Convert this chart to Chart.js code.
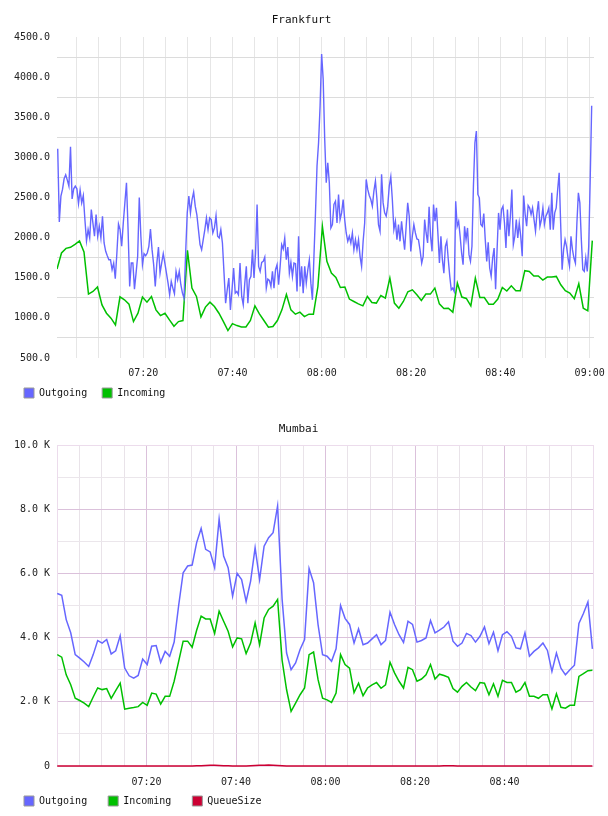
<!DOCTYPE html>
<html>
<head>
<meta charset="utf-8">
<script src="https://cdn.jsdelivr.net/npm/chart.js@4/dist/chart.umd.min.js"></script>
<style>
  body { margin: 0; background: #fff; }
  .box { width: 608px; height: 408px; }
</style>
</head>
<body>
<div class="box"><canvas id="fra" width="608" height="408"></canvas></div>
<div class="box"><canvas id="mum" width="608" height="408"></canvas></div>
<script>
// x values are minutes after 07:00

// ---- Frankfurt ----
// Outgoing, read in three stretches (each spread evenly over its time span)
const fraOutA = [3108, 2196, 2517, 2600, 2733, 2783, 2717, 2642, 3133, 2483,
  2608, 2642, 2608, 2425, 2592, 2433, 2525, 2225, 1958, 2100,
  1996, 2350, 2183, 2017, 2288, 2017, 2142, 1996, 2267, 1933,
  1829, 1775, 1725, 1725, 1600, 1683, 1488, 1808, 2171, 2100,
  1892, 2183, 2433, 2683, 2100, 1392, 1683, 1683, 1358, 1558,
  1767, 2500, 2017, 1663, 1800, 1775, 1808, 1892, 2108, 1850,
  1663, 1392, 1683, 1883, 1558, 1683, 1800, 1683, 1558, 1433,
  1288, 1454, 1371, 1300, 1579, 1475, 1579, 1413, 1308, 1246,
  1808, 2308, 2517, 2308, 2475, 2567, 2392, 2288, 2100, 1913,
  1850, 1975, 2100, 2246, 2100, 2246, 2225, 2058, 2121, 2275,
  2017, 1996, 2100, 1933, 1558, 1183, 1350, 1496, 1100, 1350,
  1621, 1308, 1329, 1288, 1683];
const fraOutB = [1267, 1163, 1433, 1642, 1183, 1475, 1517, 1850, 1496, 1808,
  2413, 1642, 1579, 1692, 1704, 1758, 1371, 1483, 1467, 1392,
  1579, 1371, 1600, 1663, 1413, 1642, 1913, 1858, 1996, 1725,
  1883, 1558, 1692, 1517, 1683, 1675, 1329, 2017, 1392, 1642,
  1308, 1642, 1433, 1600, 1725, 1433, 1225, 1767, 2308, 2892,
  3183, 3642, 4288, 3975, 3225, 2683, 2933, 2683, 2121, 2163,
  2413, 2454, 2183, 2538, 2225, 2308, 2475, 2225, 2058, 1954,
  2017, 1933, 2058, 1850, 1975, 1850, 1975, 1767, 1642, 1954,
  2183, 2725, 2600, 2525, 2475, 2392, 2579, 2704, 2475, 2163,
  2079, 2788, 2433, 2308, 2267, 2392, 2642, 2758, 2475, 2100,
  2204, 1975, 2163, 1954, 2204, 2017, 1850, 2142, 2433, 2267,
  1829, 2017, 2163, 2058, 1983, 1975, 1850];
const fraOutC = [1683, 1767, 2225, 2058, 1933, 2383, 2017, 1829, 2413, 2204,
  2371, 2038, 1683, 2017, 1725, 1558, 1892, 1954, 1725, 1517,
  1350, 1371, 1329, 2454, 2142, 2204, 2017, 1808, 1663, 2142,
  1975, 2121, 1788, 1704, 1892, 2642, 3183, 3329, 2538, 2496,
  2163, 2142, 2300, 1975, 1704, 1942, 1621, 1517, 1746, 1871,
  1358, 1850, 2308, 2100, 2350, 2392, 2183, 1871, 2350, 2017,
  2267, 2600, 1913, 2017, 2225, 1996, 2183, 2017, 1767, 2525,
  2288, 2142, 2400, 2371, 2288, 2371, 2225, 2079, 2308, 2454,
  2142, 2225, 2371, 2163, 2267, 2308, 2371, 2100, 2558, 2100,
  2308, 2371, 2600, 2808, 2183, 1600, 1850, 1975, 1892, 1746,
  1642, 2017, 1850, 1746, 1683, 2183, 2558, 2433, 1975, 1600,
  1579, 1746, 1579, 1892, 2725, 3642];
const fraOutSpans = [[0.83, 41.67], [42.05, 81.99], [82.37, 120.45]];

// Incoming, one reading per minute
const fraIn = [1609, 1809, 1866, 1879, 1917, 1958, 1821, 1296, 1329, 1384,
  1162, 1058, 996, 912, 1262, 1225, 1171, 954, 1058, 1259,
  1196, 1267, 1100, 1029, 1058, 975, 896, 954, 967, 1841,
  1371, 1267, 1012, 1134, 1196, 1142, 1058, 954, 842, 929,
  904, 887, 887, 967, 1150, 1050, 967, 883, 892, 967,
  1100, 1291, 1100, 1046, 1071, 1016, 1046, 1046, 1391, 2140,
  1704, 1558, 1504, 1379, 1384, 1234, 1204, 1175, 1150, 1267,
  1192, 1184, 1279, 1246, 1496, 1184, 1121, 1204, 1325, 1350,
  1288, 1217, 1296, 1296, 1371, 1175, 1117, 1121, 1071, 1434,
  1259, 1242, 1150, 1496, 1254, 1254, 1171, 1171, 1234, 1379,
  1334, 1400, 1338, 1338, 1588, 1579, 1521, 1521, 1471, 1509,
  1509, 1517, 1413, 1338, 1309, 1238, 1425, 1121, 1088, 1963];
const fraInStart = 0.67, fraInStep = 1.0077;
const fraRange = [0.67, 120.97];
const fraYTicks = [500, 750, 1000, 1250, 1500, 1750, 2000, 2250, 2500, 2750,
  3000, 3250, 3500, 3750, 4000, 4250, 4500];

// ---- Mumbai ----
const mumOut = [5375, 5320, 4560, 4150, 3470, 3360, 3240, 3100, 3470, 3910,
  3830, 3940, 3490, 3590, 4060, 3050, 2810, 2740, 2820, 3330,
  3160, 3730, 3750, 3230, 3570, 3420, 3860, 5000, 6020, 6230,
  6260, 6960, 7400, 6750, 6670, 6180, 7690, 6540, 6180, 5290,
  6000, 5810, 5130, 5760, 6800, 5810, 6850, 7110, 7270, 8100,
  5200, 3520, 3000, 3210, 3630, 3940, 6150, 5710, 4400, 3470,
  3420, 3260, 3650, 5000, 4600, 4410, 3830, 4270, 3780, 3830,
  3960, 4090, 3780, 3910, 4790, 4410, 4090, 3850, 4510, 4410,
  3860, 3910, 3990, 4530, 4150, 4230, 4330, 4490, 3890, 3730,
  3830, 4130, 4060, 3860, 4040, 4330, 3810, 4170, 3590, 4090,
  4180, 4040, 3680, 3650, 4150, 3420, 3570, 3680, 3830, 3600,
  2950, 3520, 3050, 2840, 3000, 3140, 4440, 4750, 5110, 3650];
const mumIn = [3470, 3390, 2840, 2530, 2110, 2040, 1960, 1850, 2150, 2430,
  2380, 2410, 2110, 2350, 2580, 1770, 1800, 1820, 1850, 1980,
  1890, 2270, 2240, 1930, 2170, 2170, 2640, 3260, 3890, 3890,
  3700, 4230, 4670, 4580, 4580, 4130, 4820, 4510, 4200, 3710,
  3990, 3960, 3500, 3830, 4460, 3780, 4610, 4875, 4980, 5190,
  3300, 2375, 1700, 1960, 2220, 2430, 3470, 3550, 2690, 2110,
  2060, 1980, 2270, 3470, 3160, 3050, 2290, 2580, 2190, 2430,
  2530, 2600, 2420, 2530, 3230, 2900, 2640, 2430, 3070, 3000,
  2640, 2710, 2840, 3160, 2710, 2860, 2820, 2760, 2410, 2300,
  2480, 2600, 2460, 2350, 2600, 2580, 2220, 2560, 2170, 2670,
  2600, 2600, 2300, 2380, 2600, 2170, 2170, 2110, 2220, 2220,
  1780, 2250, 1830, 1800, 1890, 1890, 2790, 2875, 2970, 2980];
const mumQueue = [0, 0, 0, 0, 0, 0, 0, 0, 0, 0, 0, 0, 0, 0, 0, 0, 0, 0, 0, 0,
  0, 0, 0, 0, 0, 0, 0, 0, 0, 0, 0, 5, 10, 18, 22, 20, 15, 8, 4, 0,
  0, 0, 0, 5, 12, 20, 25, 28, 26, 18, 8, 0, 0, 0, 0, 0, 0, 0, 0, 0,
  0, 0, 0, 0, 0, 0, 0, 0, 0, 0, 0, 0, 0, 0, 0, 0, 0, 0, 0, 0,
  0, 0, 0, 0, 0, 0, 4, 6, 4, 0, 0, 0, 0, 0, 0, 0, 0, 0, 0, 0,
  0, 0, 0, 0, 0, 0, 0, 0, 0, 0, 0, 0, 0, 0, 0, 0, 0, 0, 0, 0];
const mumStart = 0.05, mumStep = 1.005;
const mumRange = [0, 120];
const mumYTicks = [0, 1000, 2000, 3000, 4000, 5000, 6000, 7000, 8000, 9000, 10000];

// 5 minute grid, labels every 20 minutes
const timeTicks = [5, 10, 15, 20, 25, 30, 35, 40, 45, 50, 55, 60,
  65, 70, 75, 80, 85, 90, 95, 100, 105, 110, 115, 120];

const BLUE = 'rgb(102,102,255)';
const GREEN = 'rgb(0,192,0)';
const RED = 'rgb(204,0,51)';

Chart.defaults.font.family = '"DejaVu Sans Mono", monospace';
Chart.defaults.font.size = 10;
Chart.defaults.color = '#222';

const seq = (values, start, step) => values.map((v, i) => ({x: start + i * step, y: v}));
const spanSeq = (values, span) => seq(values, span[0], (span[1] - span[0]) / (values.length - 1));

const two = n => String(n).padStart(2, '0');
const fmtTime = v => two(7 + Math.floor(v / 60)) + ':' + two(v % 60);

//legend boxes get a grey edge
const legendLabels = chart =>
  Chart.defaults.plugins.legend.labels.generateLabels(chart)
    .map(l => ({...l, strokeStyle: '#999', lineWidth: 1}));

const framePlugin = {
  id: 'frame',
  // tick labels are clipped to their axis box, so let them spill over
  afterLayout(chart) {
    chart.scales.x.bottom = chart.height;
    chart.scales.y.left = 0;
  },
  // thin frame round the Mumbai plot
  beforeDatasetsDraw(chart, args, opts) {
    if (!opts.color) return;
    const a = chart.chartArea, ctx = chart.ctx;
    ctx.save();
    ctx.strokeStyle = opts.color;
    ctx.lineWidth = 1;
    ctx.strokeRect(Math.round(a.left) + 0.5, Math.round(a.top) + 0.5,
      Math.round(a.right - a.left) - 1, Math.round(a.bottom - a.top));
    ctx.restore();
  }
};

const makeChart = (id, cfg) => new Chart(document.getElementById(id), {
  type: 'line',
  data: {datasets: cfg.datasets},
  plugins: [framePlugin],
  options: {
    responsive: false,
    animation: false,
    devicePixelRatio: 1,
    layout: {padding: {left: cfg.padLeft, right: 14, top: 0, bottom: 0}},
    elements: {point: {radius: 0}, line: {tension: 0, borderWidth: 1.5}},
    plugins: {
      frame: {color: cfg.frame},
      tooltip: {enabled: false},
      title: {
        display: true, text: cfg.title, color: '#111',
        font: {size: 11, weight: 'normal'},
        padding: {top: cfg.titleTop, bottom: 23.8 - cfg.titleTop}
      },
      legend: {
        position: 'bottom', align: 'start',
        labels: {boxWidth: 10, boxHeight: 10, padding: cfg.legendGap, color: '#111',
          font: {size: 10}, generateLabels: legendLabels}
      }
    },
    scales: {
      x: {
        type: 'linear', min: cfg.xRange[0], max: cfg.xRange[1],
        afterBuildTicks: s => { s.ticks = timeTicks.filter(t => t < s.max).map(v => ({value: v})); },
        afterFit: s => { s.height = cfg.xHeight; s.paddingLeft = 0; s.paddingRight = 0; },
        border: {display: false},
        grid: {drawTicks: false, color: cfg.xGrid},
        ticks: {padding: cfg.xPad, maxRotation: 0, autoSkip: false,
          callback: v => (v % 20 === 0 ? fmtTime(v) : '')}
      },
      y: {
        min: cfg.yTicks[0], max: cfg.yTicks[cfg.yTicks.length - 1],
        afterBuildTicks: s => { s.ticks = cfg.yTicks.map(v => ({value: v})); },
        afterFit: s => { s.width = 57 - cfg.padLeft; },
        border: {display: false},
        grid: {drawTicks: false, color: cfg.yGrid},
        ticks: {padding: 7, autoSkip: false, callback: cfg.yLabel}
      }
    }
  }
});

makeChart('fra', {
  title: 'Frankfurt', titleTop: 13.5, padLeft: 9, legendGap: 15,
  xRange: fraRange, xHeight: 15, xPad: 9, yTicks: fraYTicks, frame: null,
  xGrid: '#e6e6e6',
  yGrid: c => (c.tick && c.tick.value % 500 === 0 ? 'rgba(0,0,0,0)' : '#dcdcdc'),
  yLabel: v => (v % 500 === 0 ? v.toFixed(1) : ''),
  datasets: [
    {label: 'Outgoing', borderColor: BLUE, backgroundColor: BLUE, borderWidth: 1.4,
      data: [].concat(spanSeq(fraOutA, fraOutSpans[0]), spanSeq(fraOutB, fraOutSpans[1]),
        spanSeq(fraOutC, fraOutSpans[2]))},
    {label: 'Incoming', borderColor: GREEN, backgroundColor: GREEN,
      data: seq(fraIn, fraInStart, fraInStep)}
  ]
});

makeChart('mum', {
  title: 'Mumbai', titleTop: 14.4, padLeft: 3, legendGap: 21,
  xRange: mumRange, xHeight: 9, xPad: 10, yTicks: mumYTicks, frame: '#ecdcec',
  xGrid: c => (c.tick && c.tick.value % 20 === 0 ? '#dbc1db' : '#e9e3e9'),
  yGrid: c => (c.tick && c.tick.value % 2000 === 0 ? '#dbc1db' : '#ebe6eb'),
  yLabel: v => (v % 2000 !== 0 ? '' : v === 0 ? '0' : (v / 1000).toFixed(1) + ' K'),
  datasets: [
    {label: 'Outgoing', borderColor: BLUE, backgroundColor: BLUE,
      data: seq(mumOut, mumStart, mumStep)},
    {label: 'Incoming', borderColor: GREEN, backgroundColor: GREEN,
      data: seq(mumIn, mumStart, mumStep)},
    {label: 'QueueSize', borderColor: RED, backgroundColor: RED, clip: 4,
      data: seq(mumQueue, mumStart, mumStep)}
  ]
});
</script>
</body>
</html>
